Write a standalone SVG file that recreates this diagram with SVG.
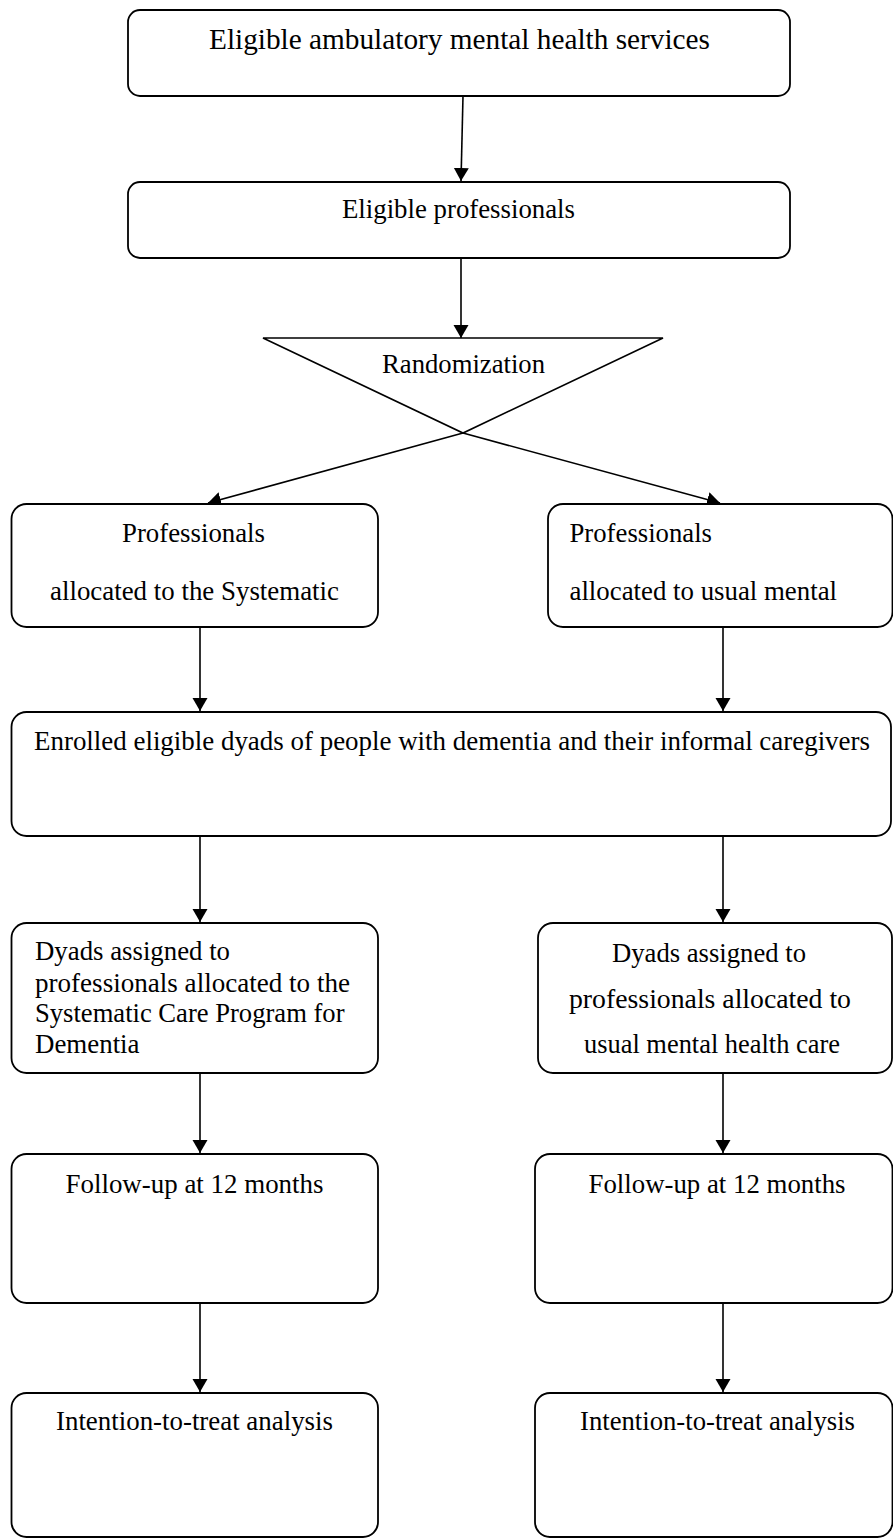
<svg xmlns="http://www.w3.org/2000/svg" width="893" height="1538" viewBox="0 0 893 1538">
<style>
.box{fill:#fff;stroke:#000;stroke-width:1.8}
.tri{fill:none;stroke:#000;stroke-width:1.6;stroke-linejoin:miter}
.t{font-family:"Liberation Serif","Times New Roman",serif;font-size:26.5px;fill:#000}
.c{text-anchor:middle}
.l{text-anchor:start}
.edge{fill:none;stroke:#000;stroke-width:1.6}
</style>
<defs>
<marker id="ah" markerUnits="userSpaceOnUse" markerWidth="14" markerHeight="16" refX="13" refY="7.5" orient="auto">
<path d="M0,0 L13,7.5 L0,15 z" fill="#000"/>
</marker>
</defs>
<rect width="893" height="1538" fill="#fff"/>
<g id="connectors">
<line class="edge" x1="463" y1="96" x2="461" y2="181" marker-end="url(#ah)"/>
<line class="edge" x1="461" y1="258" x2="461" y2="338" marker-end="url(#ah)"/>
<line class="edge" x1="463" y1="433" x2="208" y2="503" marker-end="url(#ah)"/>
<line class="edge" x1="463" y1="433" x2="720" y2="503" marker-end="url(#ah)"/>
<line class="edge" x1="200" y1="627" x2="200" y2="711" marker-end="url(#ah)"/>
<line class="edge" x1="723" y1="627" x2="723" y2="711" marker-end="url(#ah)"/>
<line class="edge" x1="200" y1="836" x2="200" y2="922" marker-end="url(#ah)"/>
<line class="edge" x1="723" y1="836" x2="723" y2="922" marker-end="url(#ah)"/>
<line class="edge" x1="200" y1="1073" x2="200" y2="1153" marker-end="url(#ah)"/>
<line class="edge" x1="723" y1="1073" x2="723" y2="1153" marker-end="url(#ah)"/>
<line class="edge" x1="200" y1="1303" x2="200" y2="1392" marker-end="url(#ah)"/>
<line class="edge" x1="723" y1="1303" x2="723" y2="1392" marker-end="url(#ah)"/>
</g>
<g id="n-services">
<rect class="box" x="128" y="10" width="662" height="86" rx="12" ry="12"/>
<text class="t c" x="459.5" y="49" style="font-size:29px" textLength="501" lengthAdjust="spacingAndGlyphs">Eligible ambulatory mental health services</text>
</g>
<g id="n-professionals">
<rect class="box" x="128" y="182" width="662" height="76" rx="12" ry="12"/>
<text class="t c" x="458.5" y="218" textLength="233" lengthAdjust="spacingAndGlyphs">Eligible professionals</text>
</g>
<g id="n-randomization">
<polygon class="tri" points="263,338 663,338 463,433"/>
<text class="t c" x="463.5" y="373" textLength="163" lengthAdjust="spacingAndGlyphs">Randomization</text>
</g>
<g id="n-prof-scp">
<rect class="box" x="11.5" y="504" width="366.5" height="123" rx="15" ry="15"/>
<text class="t c" x="193.5" y="542" textLength="143" lengthAdjust="spacingAndGlyphs">Professionals</text>
<text class="t c" x="194.5" y="600" textLength="289" lengthAdjust="spacingAndGlyphs">allocated to the Systematic</text>
</g>
<g id="n-prof-usual">
<rect class="box" x="548" y="504" width="344.5" height="123" rx="15" ry="15"/>
<text class="t l" x="569.5" y="542" textLength="142.5" lengthAdjust="spacingAndGlyphs">Professionals</text>
<text class="t l" x="569.5" y="600" textLength="267.5" lengthAdjust="spacingAndGlyphs">allocated to usual mental</text>
</g>
<g id="n-enrolled">
<rect class="box" x="11.5" y="712" width="879.5" height="124" rx="15" ry="15"/>
<text class="t c" x="452" y="750" textLength="836" lengthAdjust="spacingAndGlyphs">Enrolled eligible dyads of people with dementia and their informal caregivers</text>
</g>
<g id="n-dyads-scp">
<rect class="box" x="11.5" y="923" width="366.5" height="150" rx="15" ry="15"/>
<text class="t l" x="35" y="960" textLength="195" lengthAdjust="spacingAndGlyphs">Dyads assigned to</text>
<text class="t l" x="35" y="992" textLength="315" lengthAdjust="spacingAndGlyphs">professionals allocated to the</text>
<text class="t l" x="35" y="1022" textLength="309.5" lengthAdjust="spacingAndGlyphs">Systematic Care Program for</text>
<text class="t l" x="35" y="1053" textLength="104.5" lengthAdjust="spacingAndGlyphs">Dementia</text>
</g>
<g id="n-dyads-usual">
<rect class="box" x="538" y="923" width="354" height="150" rx="15" ry="15"/>
<text class="t c" x="709" y="962" textLength="194" lengthAdjust="spacingAndGlyphs">Dyads assigned to</text>
<text class="t c" x="710" y="1008" textLength="282" lengthAdjust="spacingAndGlyphs">professionals allocated to</text>
<text class="t c" x="712" y="1053" textLength="256" lengthAdjust="spacingAndGlyphs">usual mental health care</text>
</g>
<g id="n-fu-scp">
<rect class="box" x="11.5" y="1154" width="366.5" height="149" rx="15" ry="15"/>
<text class="t c" x="194.5" y="1193" textLength="258" lengthAdjust="spacingAndGlyphs">Follow-up at 12 months</text>
</g>
<g id="n-fu-usual">
<rect class="box" x="535" y="1154" width="357.5" height="149" rx="15" ry="15"/>
<text class="t c" x="717" y="1193" textLength="257" lengthAdjust="spacingAndGlyphs">Follow-up at 12 months</text>
</g>
<g id="n-itt-scp">
<rect class="box" x="11.5" y="1393" width="366.5" height="144" rx="15" ry="15"/>
<text class="t c" x="194.5" y="1430" textLength="277" lengthAdjust="spacingAndGlyphs">Intention-to-treat analysis</text>
</g>
<g id="n-itt-usual">
<rect class="box" x="535" y="1393" width="357.5" height="144" rx="15" ry="15"/>
<text class="t c" x="717.5" y="1430" textLength="275" lengthAdjust="spacingAndGlyphs">Intention-to-treat analysis</text>
</g>
</svg>
